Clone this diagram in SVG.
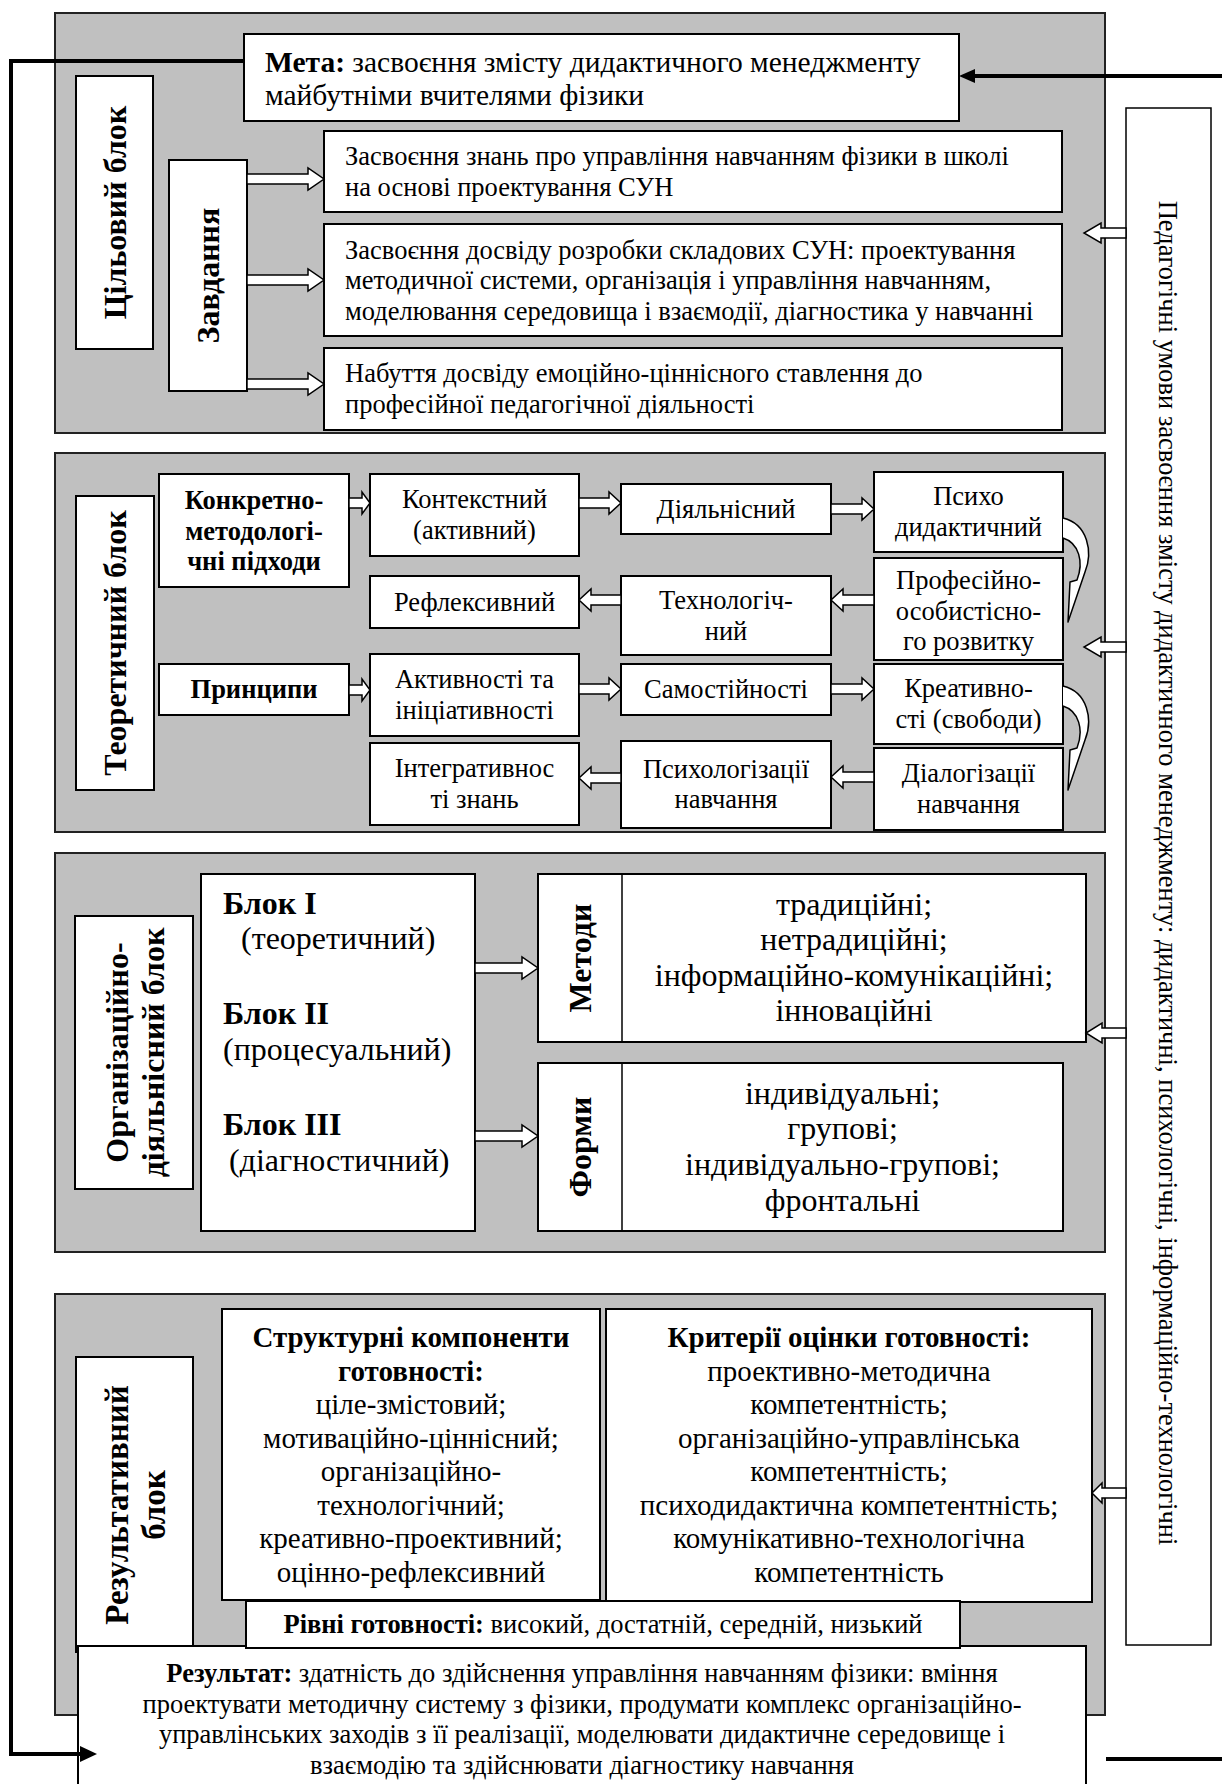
<svg xmlns="http://www.w3.org/2000/svg" width="1222" height="1784" viewBox="0 0 1222 1784">
<defs>
<style>
.panel{fill:#c0c0c0;stroke:#222;stroke-width:2}
.box{fill:#fff;stroke:#000;stroke-width:2}
.ln{fill:none;stroke:#000;stroke-width:1.5}
.t{font-family:"Liberation Serif","Times New Roman",serif;font-size:26.5px;fill:#000}
.c{text-anchor:middle}
.b{font-weight:bold}
.vl{font-family:"Liberation Serif","Times New Roman",serif;font-size:32px;font-weight:bold;text-anchor:middle;dominant-baseline:central;fill:#000}
.m{font-size:32px}
.s{font-size:29px}
.ba{fill:#fff;stroke:#000;stroke-width:1.5;stroke-linejoin:miter}
.fb{fill:none;stroke:#000;stroke-width:4}
.ah{fill:#000;stroke:none}
.cv{fill:#fff;stroke:#000;stroke-width:1.5;stroke-linejoin:round}
</style>
</defs>
<rect width="1222" height="1784" fill="#fff"/>

<!-- Panels -->
<g id="panel-goal"><rect class="panel" x="55" y="13" width="1050" height="420"/></g>
<g id="panel-theory"><rect class="panel" x="55" y="453" width="1050" height="379"/></g>
<g id="panel-org"><rect class="panel" x="55" y="853" width="1050" height="399"/></g>
<g id="panel-result"><rect class="panel" x="55" y="1294" width="1050" height="421"/></g>

<!-- Goal block -->
<g id="meta">
<rect class="box" x="244" y="34" width="715" height="87"/>
<text class="t" style="font-size:29.5px" x="265" y="72"><tspan class="b">Мета:</tspan> засвоєння змісту дидактичного менеджменту</text>
<text class="t" style="font-size:29.5px" x="265" y="105">майбутніми вчителями фізики</text>
</g>
<g id="goal-label">
<rect class="box" x="76" y="76" width="77" height="273"/>
<text class="vl" transform="translate(114.5,212.5) rotate(-90)">Цільовий блок</text>
</g>
<g id="tasks-label">
<rect class="box" x="169" y="160" width="78" height="231"/>
<text class="vl" transform="translate(208,275.5) rotate(-90)">Завдання</text>
</g>
<g id="task1">
<rect class="box" x="324" y="131" width="738" height="81"/>
<text class="t" x="345" y="165">Засвоєння знань про управління навчанням фізики в школі</text>
<text class="t" x="345" y="196">на основі проектування СУН</text>
</g>
<g id="task2">
<rect class="box" x="324" y="224" width="738" height="112"/>
<text class="t" x="345" y="259">Засвоєння досвіду розробки складових СУН: проектування</text>
<text class="t" x="345" y="289">методичної системи, організація і управління навчанням,</text>
<text class="t" x="345" y="320">моделювання середовища і взаємодії, діагностика у навчанні</text>
</g>
<g id="task3">
<rect class="box" x="324" y="348" width="738" height="82"/>
<text class="t" x="345" y="382">Набуття досвіду емоційно-ціннісного ставлення до</text>
<text class="t" x="345" y="413">професійної педагогічної діяльності</text>
</g>

<!-- Theory block -->
<g id="theory-label">
<rect class="box" x="76" y="496" width="78" height="294"/>
<text class="vl" transform="translate(115,643) rotate(-90)">Теоретичний блок</text>
</g>
<g id="approaches">
<rect class="box" x="159" y="474" width="190" height="113"/>
<text class="t b c" x="254" y="509">Конкретно-</text>
<text class="t b c" x="254" y="540">методологі-</text>
<text class="t b c" x="254" y="570">чні підходи</text>
</g>
<g id="contextual">
<rect class="box" x="370" y="474" width="209" height="82"/>
<text class="t c" x="474.5" y="508">Контекстний</text>
<text class="t c" x="474.5" y="539">(активний)</text>
</g>
<g id="activity">
<rect class="box" x="621" y="484" width="210" height="50"/>
<text class="t c" x="726" y="518">Діяльнісний</text>
</g>
<g id="psychodidactic">
<rect class="box" x="874" y="472" width="189" height="80"/>
<text class="t c" x="968.5" y="505">Психо</text>
<text class="t c" x="968.5" y="536">дидактичний</text>
</g>
<g id="professional">
<rect class="box" x="874" y="558" width="189" height="102"/>
<text class="t c" x="968.5" y="589">Професійно-</text>
<text class="t c" x="968.5" y="620">особистісно-</text>
<text class="t c" x="968.5" y="650">го розвитку</text>
</g>
<g id="technological">
<rect class="box" x="621" y="576" width="210" height="79"/>
<text class="t c" x="726" y="609">Технологіч-</text>
<text class="t c" x="726" y="640">ний</text>
</g>
<g id="reflexive">
<rect class="box" x="370" y="576" width="209" height="52"/>
<text class="t c" x="474.5" y="611">Рефлексивний</text>
</g>
<g id="principles">
<rect class="box" x="159" y="664" width="190" height="51"/>
<text class="t b c" x="254" y="698">Принципи</text>
</g>
<g id="initiative">
<rect class="box" x="370" y="654" width="209" height="82"/>
<text class="t c" x="474.5" y="688">Активності та</text>
<text class="t c" x="474.5" y="719">ініціативності</text>
</g>
<g id="independence">
<rect class="box" x="621" y="664" width="210" height="51"/>
<text class="t c" x="726" y="698">Самостійності</text>
</g>
<g id="creativity">
<rect class="box" x="874" y="664" width="189" height="80"/>
<text class="t c" x="968.5" y="697">Креативно-</text>
<text class="t c" x="968.5" y="728">сті (свободи)</text>
</g>
<g id="dialogization">
<rect class="box" x="874" y="748" width="189" height="82"/>
<text class="t c" x="968.5" y="782">Діалогізації</text>
<text class="t c" x="968.5" y="813">навчання</text>
</g>
<g id="psychologization">
<rect class="box" x="621" y="741" width="210" height="87"/>
<text class="t c" x="726" y="778">Психологізації</text>
<text class="t c" x="726" y="808">навчання</text>
</g>
<g id="integrativity">
<rect class="box" x="370" y="743" width="209" height="82"/>
<text class="t c" x="474.5" y="777">Інтегративнос</text>
<text class="t c" x="474.5" y="808">ті знань</text>
</g>

<!-- Organisational block -->
<g id="org-label">
<rect class="box" x="75" y="916" width="118" height="273"/>
<text class="vl" transform="translate(117,1052.5) rotate(-90)">Організаційно-</text>
<text class="vl" transform="translate(153,1052.5) rotate(-90)">діяльнісний блок</text>
</g>
<g id="blocks">
<rect class="box" x="201" y="874" width="274" height="357"/>
<text class="t m b" x="223" y="914">Блок I</text>
<text class="t m" x="241" y="949">(теоретичний)</text>
<text class="t m b" x="223" y="1024">Блок II</text>
<text class="t m" x="223" y="1060">(процесуальний)</text>
<text class="t m b" x="223" y="1135">Блок III</text>
<text class="t m" x="229" y="1171">(діагностичний)</text>
</g>
<g id="methods">
<rect class="box" x="538" y="874" width="548" height="168"/>
<line class="ln" x1="622" y1="874" x2="622" y2="1042"/>
<text class="vl" transform="translate(580,958) rotate(-90)">Методи</text>
<text class="t m c" x="854" y="915">традиційні;</text>
<text class="t m c" x="854" y="950">нетрадиційні;</text>
<text class="t m c" x="854" y="986">інформаційно-комунікаційні;</text>
<text class="t m c" x="854" y="1021">інноваційні</text>
</g>
<g id="forms">
<rect class="box" x="538" y="1063" width="525" height="168"/>
<line class="ln" x1="622" y1="1063" x2="622" y2="1231"/>
<text class="vl" transform="translate(580,1147) rotate(-90)">Форми</text>
<text class="t m c" x="842.5" y="1104">індивідуальні;</text>
<text class="t m c" x="842.5" y="1139">групові;</text>
<text class="t m c" x="842.5" y="1175">індивідуально-групові;</text>
<text class="t m c" x="842.5" y="1211">фронтальні</text>
</g>

<!-- Result block -->
<g id="result-label">
<rect class="box" x="76" y="1357" width="117" height="295"/>
<text class="vl" style="font-size:33px" transform="translate(117,1505) rotate(-90)">Результативний</text>
<text class="vl" style="font-size:33px" transform="translate(154,1505) rotate(-90)">блок</text>
</g>
<g id="components">
<rect class="box" x="222" y="1309" width="378" height="291"/>
<text class="t s b c" x="411" y="1347">Структурні компоненти</text>
<text class="t s b c" x="411" y="1381">готовності:</text>
<text class="t s c" x="411" y="1414">ціле-змістовий;</text>
<text class="t s c" x="411" y="1448">мотиваційно-ціннісний;</text>
<text class="t s c" x="411" y="1481">організаційно-</text>
<text class="t s c" x="411" y="1515">технологічний;</text>
<text class="t s c" x="411" y="1548">креативно-проективний;</text>
<text class="t s c" x="411" y="1582">оцінно-рефлексивний</text>
</g>
<g id="criteria">
<rect class="box" x="606" y="1309" width="486" height="293"/>
<text class="t s b c" x="849" y="1347">Критерії оцінки готовності:</text>
<text class="t s c" x="849" y="1381">проективно-методична</text>
<text class="t s c" x="849" y="1414">компетентність;</text>
<text class="t s c" x="849" y="1448">організаційно-управлінська</text>
<text class="t s c" x="849" y="1481">компетентність;</text>
<text class="t s c" x="849" y="1515">психодидактична компетентність;</text>
<text class="t s c" x="849" y="1548">комунікативно-технологічна</text>
<text class="t s c" x="849" y="1582">компетентність</text>
</g>
<g id="result">
<rect class="box" x="78" y="1646" width="1008" height="160"/>
<text class="t c" x="582" y="1682"><tspan class="b">Результат:</tspan> здатність до здійснення управління навчанням фізики: вміння</text>
<text class="t c" x="582" y="1713">проектувати методичну систему з фізики, продумати комплекс організаційно-</text>
<text class="t c" x="582" y="1743">управлінських заходів з її реалізації, моделювати дидактичне середовище і</text>
<text class="t c" x="582" y="1774">взаємодію та здійснювати діагностику навчання</text>
</g>
<g id="levels">
<rect class="box" x="246" y="1601" width="714" height="47"/>
<text class="t c" x="603" y="1633"><tspan class="b">Рівні готовності:</tspan> високий, достатній, середній, низький</text>
</g>

<!-- Conditions -->
<g id="conditions">
<rect class="box" x="1126" y="108" width="85" height="1537" style="stroke-width:1.5"/>
<text class="t c" dominant-baseline="central" transform="translate(1168,873) rotate(90)">Педагогічні умови засвоєння змісту дидактичного менеджменту: дидактичні, психологічні, інформаційно-технологічні</text>
</g>

<!-- Connectors -->
<g id="connectors">
<path class="ba" d="M247,174 H308 V168 L324,179 L308,190 V184 H247 Z"/>
<path class="ba" d="M247,275 H308 V269 L324,280 L308,291 V285 H247 Z"/>
<path class="ba" d="M247,379 H308 V373 L324,384 L308,395 V389 H247 Z"/>
<path class="ba" d="M1126,228 H1101 V223 L1084,233 L1101,243 V238 H1126 Z"/>

<path class="ba" d="M349,498 H362 V492 L370,503 L362,514 V508 H349 Z"/>
<path class="ba" d="M579,498 H609 V492 L621,503 L609,514 V508 H579 Z"/>
<path class="ba" d="M831,504 H862 V498 L874,509 L862,520 V514 H831 Z"/>
<path class="ba" d="M874,595 H843 V589 L831,600 L843,611 V605 H874 Z"/>
<path class="ba" d="M621,595 H591 V589 L579,600 L591,611 V605 H621 Z"/>
<path class="ba" d="M349,685 H362 V679 L370,690 L362,701 V695 H349 Z"/>
<path class="ba" d="M579,684 H609 V678 L621,689 L609,700 V694 H579 Z"/>
<path class="ba" d="M831,684 H862 V678 L874,689 L862,700 V694 H831 Z"/>
<path class="ba" d="M874,772 H843 V766 L831,777 L843,788 V782 H874 Z"/>
<path class="ba" d="M621,773 H591 V767 L579,778 L591,789 V783 H621 Z"/>
<path class="ba" d="M1126,642 H1101 V637 L1084,647 L1101,657 V652 H1126 Z"/>
<path class="cv" d="M1063,518 C1088,524 1093,552 1085,572 L1068,622 L1070,582 L1077,580 C1084,562 1079,543 1063,538"/>
<path class="cv" transform="translate(0,168)" d="M1063,518 C1088,524 1093,552 1085,572 L1068,622 L1070,582 L1077,580 C1084,562 1079,543 1063,538"/>

<path class="ba" d="M475,963 H522 V957 L538,968 L522,979 V973 H475 Z"/>
<path class="ba" d="M475,1131 H522 V1125 L538,1136 L522,1147 V1141 H475 Z"/>
<path class="ba" d="M1126,1028 H1102 V1023 L1086,1033 L1102,1043 V1038 H1126 Z"/>
<path class="ba" d="M1126,1488 H1102 V1483 L1092,1493 L1102,1503 V1498 H1126 Z"/>

<polyline class="fb" points="244,61 11,61 11,1754 82,1754"/>
<polygon class="ah" points="80,1746 97,1754 80,1762"/>
<line class="fb" x1="1222" y1="76" x2="972" y2="76"/>
<polygon class="ah" points="975,69 959,76 975,83"/>
<line class="fb" x1="1106" y1="1759" x2="1222" y2="1759"/>
</g>
</svg>
